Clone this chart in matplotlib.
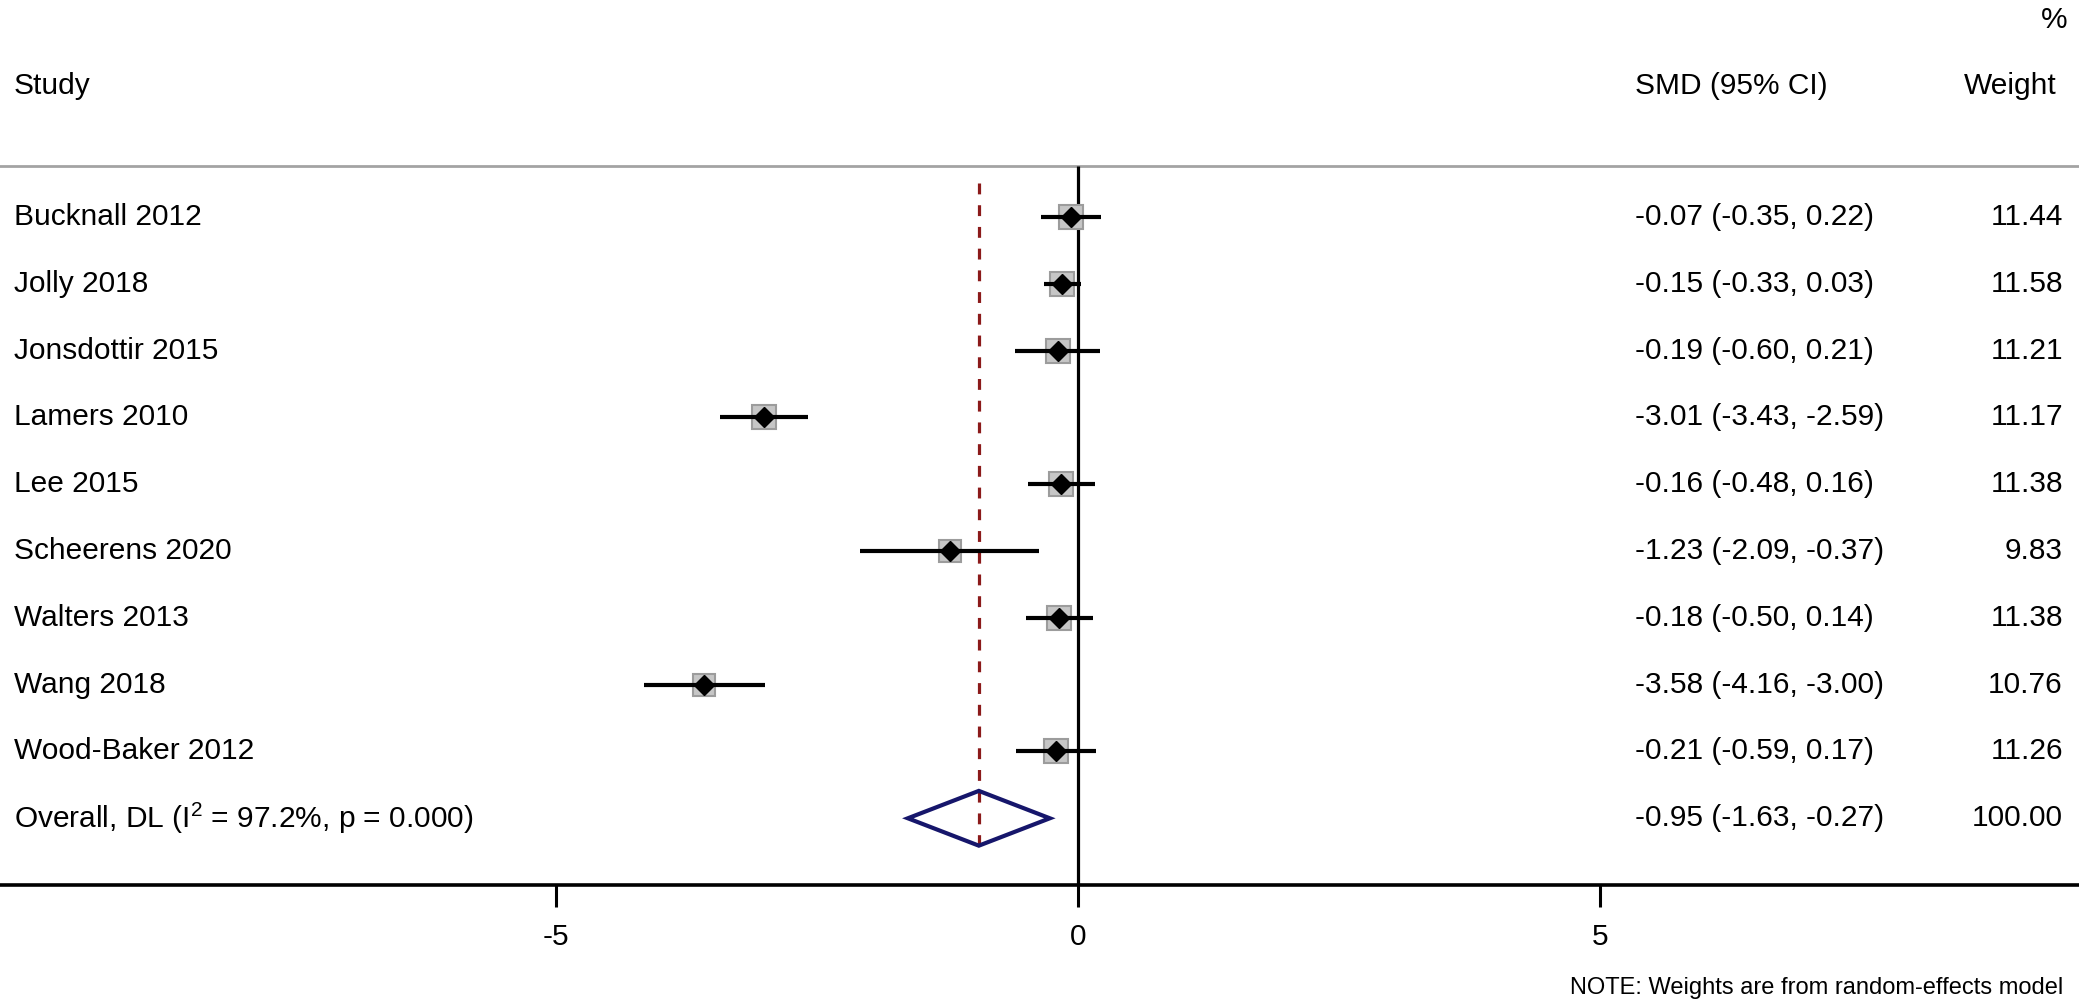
import numpy as np
import matplotlib
matplotlib.use("Agg")
import matplotlib.pyplot as plt
import matplotlib.transforms as mtransforms
from matplotlib.patches import Polygon

plt.rcParams["font.family"] = ["Liberation Sans", "DejaVu Sans"]
plt.rcParams["mathtext.fontset"] = "custom"
plt.rcParams["mathtext.rm"] = "Liberation Sans"
plt.rcParams["mathtext.it"] = "Liberation Sans:italic"
plt.rcParams["axes.unicode_minus"] = False

# data
studies = [
    "Bucknall 2012",
    "Jolly 2018",
    "Jonsdottir 2015",
    "Lamers 2010",
    "Lee 2015",
    "Scheerens 2020",
    "Walters 2013",
    "Wang 2018",
    "Wood-Baker 2012",
]
smd = [-0.07, -0.15, -0.19, -3.01, -0.16, -1.23, -0.18, -3.58, -0.21]
ci_low = [-0.35, -0.33, -0.60, -3.43, -0.48, -2.09, -0.50, -4.16, -0.59]
ci_high = [0.22, 0.03, 0.21, -2.59, 0.16, -0.37, 0.14, -3.00, 0.17]
weights = [11.44, 11.58, 11.21, 11.17, 11.38, 9.83, 11.38, 10.76, 11.26]

overall_smd, overall_low, overall_high = -0.95, -1.63, -0.27
overall_weight = 100.00
i2, p_val = 97.2, 0.000
xticks = [-5, 0, 5]

n = len(studies)
rows = np.arange(n)
overall_row = n

fig = plt.figure(figsize=(20.79, 10.06), dpi=100)
ax = fig.add_axes([0, 0, 1, 1])
ax.set_xlim(-10.326, 9.588)
ax.set_ylim(11.81, -3.249)

fs = 21.5

for s in ["left", "top", "right"]:
    ax.spines[s].set_visible(False)
ax.spines["bottom"].set_position(("data", 10.0))
ax.spines["bottom"].set_linewidth(2.6)
ax.set_yticks([])
ax.set_xticks(xticks)
ax.set_xticklabels([str(t) for t in xticks])
ax.tick_params(axis="x", direction="out", length=16, width=2.2, pad=11, labelsize=fs)

# header rule and zero line
ax.axhline(-0.763, color="#a3a3a3", lw=2.0)
ax.vlines(0, -0.763, 10.0, color="black", lw=2.3)

# overall effect dashed line
ax.plot([overall_smd, overall_smd], [-0.51, 9.46], color="#8b1a1a", lw=2.3,
        dashes=(3.4, 3.4), zorder=1)

# study CIs, weight boxes and point estimates
ax.hlines(rows, ci_low, ci_high, color="black", lw=3.0, zorder=3)
for r, est, w in zip(rows, smd, weights):
    ax.plot(est, r, marker="s", ms=17 * np.sqrt(w / 11.44),
            mfc="#c6c6c6", mec="#9c9c9c", mew=1.5, zorder=2)
ax.plot(smd, rows, "D", color="black", ms=10.5, zorder=4, lw=0)

# overall diamond
h = 0.41
diamond = Polygon(
    [[overall_low, overall_row], [overall_smd, overall_row - h],
     [overall_high, overall_row], [overall_smd, overall_row + h]],
    closed=True, fill=False, edgecolor="#16166b", lw=3.0, zorder=5,
)
ax.add_patch(diamond)

# text columns
tr = mtransforms.blended_transform_factory(ax.transAxes, ax.transData)
x_study, x_smd, x_w = 0.0067, 0.7865, 0.9923

ax.text(x_study, -1.96, "Study", transform=tr, fontsize=fs, va="center")
ax.text(x_smd, -1.96, "SMD (95% CI)", transform=tr, fontsize=fs, va="center")
ax.text(x_w - 0.003, -1.96, "Weight", transform=tr, fontsize=fs, va="center", ha="right")
ax.text(0.9945, -2.95, "%", transform=tr, fontsize=fs, va="center", ha="right")

for r, name, est, lo, hi, w in zip(rows, studies, smd, ci_low, ci_high, weights):
    ax.text(x_study, r, name, transform=tr, fontsize=fs, va="center")
    ax.text(x_smd, r, f"{est:.2f} ({lo:.2f}, {hi:.2f})", transform=tr,
            fontsize=fs, va="center")
    ax.text(x_w, r, f"{w:.2f}", transform=tr, fontsize=fs, va="center", ha="right")

ax.text(x_study, overall_row, f"Overall, DL (I$^2$ = {i2:.1f}%, p = {p_val:.3f})",
        transform=tr, fontsize=fs, va="center")
ax.text(x_smd, overall_row,
        f"{overall_smd:.2f} ({overall_low:.2f}, {overall_high:.2f})",
        transform=tr, fontsize=fs, va="center")
ax.text(x_w, overall_row, f"{overall_weight:.2f}", transform=tr, fontsize=fs,
        va="center", ha="right")

ax.text(0.9925, 11.54, "NOTE: Weights are from random-effects model", transform=tr,
        fontsize=17, va="center", ha="right")

fig.savefig("out.png", dpi=100)
